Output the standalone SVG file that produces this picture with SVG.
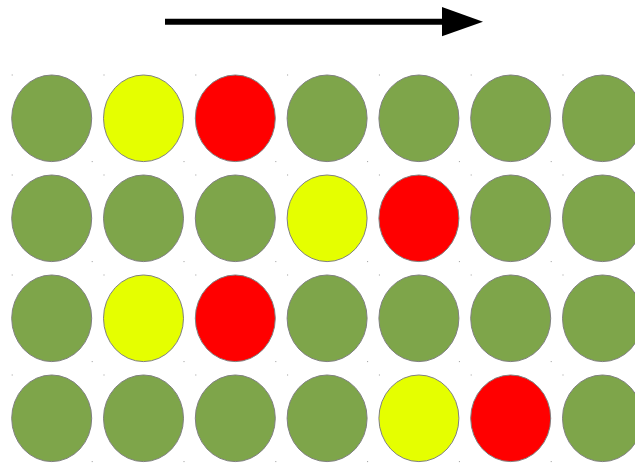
<svg xmlns="http://www.w3.org/2000/svg" width="635" height="463" viewBox="0 0 635 463">
<style>
.g{fill:#7ea54a}.y{fill:#e5ff00}.r{fill:#ff0000}
ellipse{stroke:#808080;stroke-width:1}
.d{fill:#9a9a9a}
</style>
<defs>
<g id="cell-g"><ellipse class="g" cx="0" cy="0" rx="40" ry="43.3"/><rect class="d" x="-40" y="-43.8" width="1" height="1"/><rect class="d" x="40" y="42.8" width="1" height="1"/></g>
<g id="cell-y"><ellipse class="y" cx="0" cy="0" rx="40" ry="43.3"/><rect class="d" x="-40" y="-43.8" width="1" height="1"/><rect class="d" x="40" y="42.8" width="1" height="1"/></g>
<g id="cell-r"><ellipse class="r" cx="0" cy="0" rx="40" ry="43.3"/><rect class="d" x="-40" y="-43.8" width="1" height="1"/><rect class="d" x="40" y="42.8" width="1" height="1"/></g>
</defs>
<rect width="635" height="463" fill="#fff"/>
<g id="arrow">
<line x1="165" y1="21.7" x2="443" y2="21.7" stroke="#000" stroke-width="6"/>
<polygon points="442,7 483,21.7 442,36.3" fill="#000"/>
</g>
<g id="row1">
<use href="#cell-g" x="51.7" y="118.3"/>
<use href="#cell-y" x="143.5" y="118.3"/>
<use href="#cell-r" x="235.3" y="118.3"/>
<use href="#cell-g" x="327.1" y="118.3"/>
<use href="#cell-g" x="418.9" y="118.3"/>
<use href="#cell-g" x="510.7" y="118.3"/>
<use href="#cell-g" x="602.5" y="118.3"/>
</g>
<g id="row2">
<use href="#cell-g" x="51.7" y="218.3"/>
<use href="#cell-g" x="143.5" y="218.3"/>
<use href="#cell-g" x="235.3" y="218.3"/>
<use href="#cell-y" x="327.1" y="218.3"/>
<use href="#cell-r" x="418.9" y="218.3"/>
<use href="#cell-g" x="510.7" y="218.3"/>
<use href="#cell-g" x="602.5" y="218.3"/>
</g>
<g id="row3">
<use href="#cell-g" x="51.7" y="318.3"/>
<use href="#cell-y" x="143.5" y="318.3"/>
<use href="#cell-r" x="235.3" y="318.3"/>
<use href="#cell-g" x="327.1" y="318.3"/>
<use href="#cell-g" x="418.9" y="318.3"/>
<use href="#cell-g" x="510.7" y="318.3"/>
<use href="#cell-g" x="602.5" y="318.3"/>
</g>
<g id="row4">
<use href="#cell-g" x="51.7" y="418.3"/>
<use href="#cell-g" x="143.5" y="418.3"/>
<use href="#cell-g" x="235.3" y="418.3"/>
<use href="#cell-g" x="327.1" y="418.3"/>
<use href="#cell-y" x="418.9" y="418.3"/>
<use href="#cell-r" x="510.7" y="418.3"/>
<use href="#cell-g" x="602.5" y="418.3"/>
</g>
</svg>
